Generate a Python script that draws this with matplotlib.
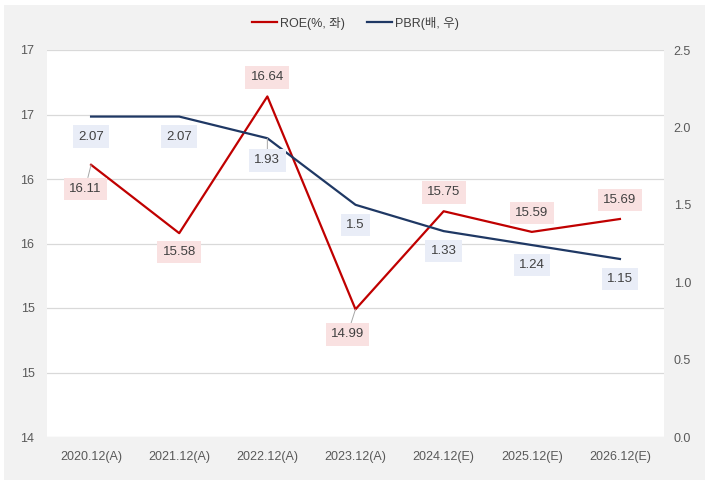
import math
import matplotlib
matplotlib.use("Agg")
import matplotlib.pyplot as plt
from matplotlib.patches import Rectangle
from matplotlib.ticker import FuncFormatter, MultipleLocator

plt.rcParams['font.family'] = ['Liberation Sans', 'Noto Sans CJK KR', 'DejaVu Sans']

categories = ["2020.12(A)", "2021.12(A)", "2022.12(A)", "2023.12(A)",
              "2024.12(E)", "2025.12(E)", "2026.12(E)"]
roe = [16.11, 15.58, 16.64, 14.99, 15.75, 15.59, 15.69]
pbr = [2.07, 2.07, 1.93, 1.5, 1.33, 1.24, 1.15]
roe_label = "ROE(%, 좌)"
pbr_label = "PBR(배, 우)"

RED = "#c00000"
NAVY = "#1f3864"
TXT = "#404040"
TICK = "#595959"
GRID = "#d9d9d9"

W, H = 711, 487
fig = plt.figure(figsize=(W / 100, H / 100), dpi=100, facecolor="white")
fig.patches.append(Rectangle((4 / W, (H - 480) / H), 701 / W, 475 / H,
                             transform=fig.transFigure, facecolor="#f2f2f2",
                             edgecolor="none", zorder=-10))

ax = fig.add_axes([47 / W, (H - 437) / H, (664 - 47) / W, (437 - 50) / H])
ax.set_facecolor("white")
ax2 = ax.twinx()

x = list(range(len(categories)))
l1, = ax.plot(x, roe, color=RED, lw=1.6, zorder=3)
l2, = ax2.plot(x, pbr, color=NAVY, lw=1.6, zorder=3)

ax.set_xlim(-0.5, len(categories) - 0.5)
ax.set_ylim(14, 17)
ax2.set_ylim(0, 2.5)
ax.yaxis.set_major_locator(MultipleLocator(0.5))
ax2.yaxis.set_major_locator(MultipleLocator(0.5))
ax.yaxis.set_major_formatter(FuncFormatter(lambda v, p: str(int(math.floor(v + 0.5)))))
ax2.yaxis.set_major_formatter(FuncFormatter(lambda v, p: f"{v:.1f}"))
ax.set_xticks(x)
ax.set_xticklabels(categories)

for a in (ax, ax2):
    for s in a.spines.values():
        s.set_visible(False)
    a.tick_params(length=0, labelsize=9, labelcolor=TICK)
ax.tick_params(axis='y', pad=9)
ax2.tick_params(axis='y', pad=7)
ax.tick_params(axis='x', pad=10)
ax.grid(axis='y', color=GRID, lw=0.9)
ax.set_axisbelow(True)
ax2.set_zorder(ax.get_zorder() + 1)
ax2.patch.set_visible(False)

LFS = 9.5
# ROE labels offsets (pixels)
roe_off = [(-6, -24), (0, -19), (0, 19), (-8, -25), (0, 19), (0, 19), (0, 19)]
roe_leader = [True, False, False, True, False, False, False]
for i, (v, (dx, dy), ld) in enumerate(zip(roe, roe_off, roe_leader)):
    ax.annotate(f"{v:g}", (i, v), xytext=(dx, dy), textcoords="offset pixels",
                ha="center", va="center", fontsize=LFS, color=TXT, zorder=5,
                bbox=dict(boxstyle="square,pad=0.4", fc="#f9e1e1", ec="none"),
                arrowprops=dict(arrowstyle="-", color="#a6a6a6", lw=0.7,
                                shrinkA=0, shrinkB=0) if ld else None)

pbr_off = [(0, -20), (0, -20), (0, -22), (0, -20), (0, -20), (0, -20), (0, -20)]
pbr_leader = [False, False, True, False, False, False, False]
for i, (v, (dx, dy), ld) in enumerate(zip(pbr, pbr_off, pbr_leader)):
    ax2.annotate(f"{v:g}", (i, v), xytext=(dx, dy), textcoords="offset pixels",
                 ha="center", va="center", fontsize=LFS, color=TXT, zorder=5,
                 bbox=dict(boxstyle="square,pad=0.4", fc="#e9edf7", ec="none"),
                 arrowprops=dict(arrowstyle="-", color="#a6a6a6", lw=0.7,
                                 shrinkA=0, shrinkB=0) if ld else None)

fig.legend([l1, l2], [roe_label, pbr_label], loc="center",
           bbox_to_anchor=(0.5, (H - 23) / H), ncol=2, frameon=False,
           fontsize=9, handlelength=2.0, handletextpad=0.2,
           columnspacing=1.8, labelcolor=TXT)

fig.savefig("out.png", dpi=100, facecolor="white")
